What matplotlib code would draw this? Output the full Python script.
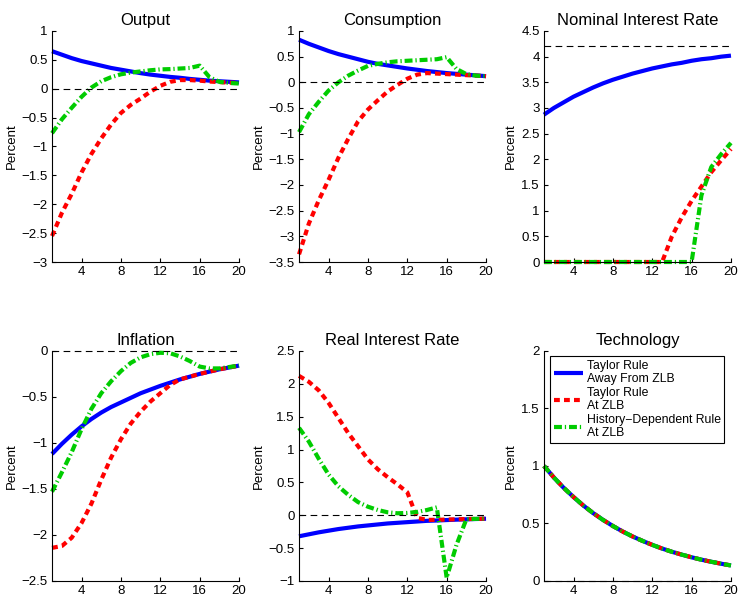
import matplotlib
matplotlib.use("Agg")
import matplotlib.pyplot as plt

plt.rcParams["font.family"] = ["Liberation Sans", "DejaVu Sans"]

quarters = list(range(1, 21))

# Output
output_taylor = [0.65, 0.59, 0.53, 0.48, 0.44, 0.40, 0.36, 0.33, 0.30, 0.27,
                 0.245, 0.225, 0.205, 0.19, 0.17, 0.155, 0.14, 0.13, 0.12, 0.11]
output_zlb = [-2.55, -2.15, -1.82, -1.45, -1.13, -0.86, -0.62, -0.42, -0.28, -0.17,
              -0.05, 0.05, 0.12, 0.15, 0.15, 0.14, 0.125, 0.115, 0.105, 0.10]
output_hist = [-0.77, -0.53, -0.33, -0.14, 0.02, 0.13, 0.20, 0.25, 0.28, 0.30,
               0.32, 0.335, 0.34, 0.35, 0.36, 0.40, 0.20, 0.12, 0.10, 0.09]

# Consumption
cons_taylor = [0.83, 0.75, 0.68, 0.61, 0.55, 0.50, 0.45, 0.40, 0.36, 0.33,
               0.30, 0.27, 0.245, 0.22, 0.20, 0.18, 0.165, 0.15, 0.135, 0.12]
cons_zlb = [-3.35, -2.75, -2.3, -1.9, -1.47, -1.1, -0.76, -0.53, -0.35, -0.18,
            -0.05, 0.07, 0.15, 0.18, 0.17, 0.16, 0.15, 0.14, 0.13, 0.12]
cons_hist = [-0.97, -0.62, -0.38, -0.16, 0.0, 0.13, 0.23, 0.32, 0.36, 0.39,
             0.41, 0.42, 0.43, 0.44, 0.45, 0.49, 0.26, 0.16, 0.13, 0.12]

# Nominal interest rate
nom_taylor = [2.87, 3.0, 3.11, 3.22, 3.31, 3.4, 3.48, 3.55, 3.61, 3.67,
              3.72, 3.77, 3.81, 3.85, 3.88, 3.92, 3.95, 3.97, 4.0, 4.02]
nom_zlb = [0, 0, 0, 0, 0, 0, 0, 0, 0, 0,
           0, 0, 0, 0.5, 0.87, 1.19, 1.47, 1.75, 1.98, 2.2]
nom_hist = [0, 0, 0, 0, 0, 0, 0, 0, 0, 0,
            0, 0, 0, 0, 0, 0, 1.3, 1.85, 2.1, 2.32]
nom_steady = 4.2

# Inflation
infl_taylor = [-1.12, -1.01, -0.91, -0.82, -0.74, -0.67, -0.61, -0.56, -0.51, -0.46,
               -0.42, -0.38, -0.345, -0.31, -0.28, -0.25, -0.225, -0.2, -0.18, -0.16]
infl_zlb = [-2.14, -2.12, -2.03, -1.87, -1.66, -1.4, -1.16, -0.96, -0.79, -0.66,
            -0.55, -0.46, -0.37, -0.31, -0.28, -0.25, -0.225, -0.2, -0.18, -0.16]
infl_hist = [-1.53, -1.32, -1.1, -0.85, -0.63, -0.46, -0.33, -0.22, -0.13, -0.07,
             -0.035, -0.02, -0.025, -0.06, -0.11, -0.17, -0.19, -0.19, -0.175, -0.16]

# Real interest rate
real_taylor = [-0.32, -0.29, -0.26, -0.235, -0.21, -0.19, -0.17, -0.155, -0.14, -0.125,
               -0.115, -0.105, -0.095, -0.085, -0.08, -0.073, -0.067, -0.062, -0.057, -0.053]
real_zlb = [2.12, 2.03, 1.9, 1.71, 1.48, 1.25, 1.05, 0.85, 0.7, 0.58,
            0.47, 0.35, -0.04, -0.07, -0.07, -0.065, -0.062, -0.058, -0.055, -0.052]
real_hist = [1.33, 1.12, 0.86, 0.62, 0.44, 0.31, 0.2, 0.13, 0.08, 0.045,
             0.03, 0.035, 0.05, 0.08, 0.12, -0.95, -0.45, -0.06, -0.055, -0.05]

# Technology (same path under all three rules)
tech = [1.0, 0.9, 0.81, 0.73, 0.656, 0.59, 0.531, 0.478, 0.43, 0.387,
        0.349, 0.314, 0.282, 0.254, 0.229, 0.206, 0.185, 0.167, 0.15, 0.135]

panels = [
    ("Output", output_taylor, output_zlb, output_hist, 0, (-3, 1), 0.5),
    ("Consumption", cons_taylor, cons_zlb, cons_hist, 0, (-3.5, 1), 0.5),
    ("Nominal Interest Rate", nom_taylor, nom_zlb, nom_hist, nom_steady, (0, 4.5), 0.5),
    ("Inflation", infl_taylor, infl_zlb, infl_hist, 0, (-2.5, 0), 0.5),
    ("Real Interest Rate", real_taylor, real_zlb, real_hist, 0, (-1, 2.5), 0.5),
    ("Technology", tech, tech, tech, 0, (0, 2), 0.5),
]

labels = ["Taylor Rule\nAway From ZLB", "Taylor Rule\nAt ZLB",
          "History\u2212Dependent Rule\nAt ZLB"]

lefts = [0.0703, 0.4041, 0.7351]
bottoms = [0.5604, 0.0252]
width = 0.2527
heights = [0.3876, 0.386]

fig = plt.figure(figsize=(7.4, 5.96), dpi=100)

for i, (title, s1, s2, s3, ref, ylim, step) in enumerate(panels):
    row, col = divmod(i, 3)
    ax = fig.add_axes([lefts[col], bottoms[row], width, heights[row]])

    ax.plot(quarters, s1, color="#0000ff", lw=3.0, solid_capstyle="butt",
            clip_on=False, label=labels[0])
    ax.plot(quarters, s2, color="#ff0000", lw=3.0, dashes=(1.4, 1.0),
            clip_on=False, label=labels[1])
    ax.plot(quarters, s3, color="#00cc00", lw=3.0, dashes=(1.9, 0.7, 0.3, 0.7),
            clip_on=False, label=labels[2])
    ax.axhline(ref, color="black", lw=0.8, dashes=(6, 4), clip_on=False)

    ax.set_xlim(1, 20)
    ax.set_ylim(*ylim)
    ax.set_xticks([4, 8, 12, 16, 20])
    n = int(round((ylim[1] - ylim[0]) / step))
    ticks = [ylim[0] + k * step for k in range(n + 1)]
    ax.set_yticks(ticks)
    ax.set_yticklabels([f"{t:g}".replace("-", "\u2212") for t in ticks])

    ax.spines["top"].set_visible(False)
    ax.spines["right"].set_visible(False)
    ax.spines["left"].set_linewidth(0.8)
    ax.spines["bottom"].set_linewidth(0.8)
    ax.tick_params(direction="in", length=3, width=0.8, labelsize=9.5, pad=3)

    ax.set_title(title, fontsize=12, pad=4)
    ax.set_ylabel("Percent", fontsize=9.5, labelpad=3)

    if title == "Technology":
        leg = ax.legend(loc="upper left", bbox_to_anchor=(0.032, 0.978),
                        borderaxespad=0, fontsize=8.8, handlelength=2.4,
                        handletextpad=0.3, labelspacing=0.1, borderpad=0.3,
                        fancybox=False, framealpha=1, edgecolor="black")
        leg.get_frame().set_linewidth(0.8)

fig.savefig("out.png", dpi=100)
